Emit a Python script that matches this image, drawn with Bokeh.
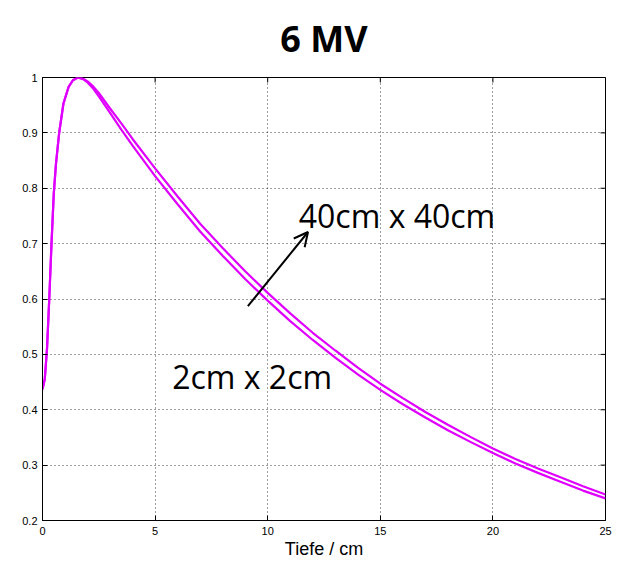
import math
from bokeh.plotting import figure
from bokeh.models import (FixedTicker, Label, Arrow, OpenHead,
                          CustomJSTickFormatter, Range1d)
from bokeh.embed import file_html
from bokeh.resources import INLINE

# ---------------- data ----------------
title_text = "6 MV"
x_label = "Tiefe / cm"
x_ticks = [0, 5, 10, 15, 20, 25]
y_ticks = [0.2, 0.3, 0.4, 0.5, 0.6, 0.7, 0.8, 0.9, 1.0]

depth_2x2 = [0.0, 0.1, 0.2, 0.3, 0.4, 0.5, 0.6, 0.74, 0.93, 1.16, 1.35, 1.57, 1.8,
             2.0, 2.25, 2.5, 3.0, 3.5, 4, 5, 6, 7, 8, 9, 10, 11, 12, 13, 14, 15,
             16, 17, 18, 19, 20, 21, 22, 23, 24, 25]
dose_2x2 = [0.437, 0.455, 0.51, 0.60, 0.70, 0.79, 0.845, 0.90, 0.953, 0.983, 0.995, 1.0, 0.997,
            0.991, 0.980, 0.966, 0.936, 0.906, 0.877, 0.822, 0.771, 0.722, 0.678, 0.636,
            0.597, 0.560, 0.526, 0.494, 0.464, 0.436, 0.410, 0.386, 0.363, 0.342, 0.322,
            0.303, 0.286, 0.270, 0.254, 0.240]

depth_40x40 = [0.0, 0.1, 0.2, 0.3, 0.4, 0.5, 0.6, 0.74, 0.93, 1.16, 1.35, 1.57, 1.8,
               2.0, 2.25, 2.5, 3.0, 3.5, 4, 5, 6, 7, 8, 9, 10, 11, 12, 13, 14, 15,
               16, 17, 18, 19, 20, 21, 22, 23, 24, 25]
dose_40x40 = [0.437, 0.455, 0.51, 0.60, 0.70, 0.79, 0.845, 0.90, 0.953, 0.983, 0.995, 1.0, 0.998,
              0.993, 0.984, 0.972, 0.944, 0.917, 0.889, 0.836, 0.785, 0.736, 0.692, 0.650,
              0.611, 0.574, 0.539, 0.507, 0.476, 0.447, 0.421, 0.396, 0.373, 0.351, 0.330,
              0.311, 0.294, 0.278, 0.262, 0.247]

label_small = "2cm x 2cm"
label_small_at = (5.76, 0.46)
label_large = "40cm x 40cm"
label_large_at = (11.38, 0.751)
arrow_from = (9.12, 0.587)
arrow_to = (11.79, 0.721)

CURVE = "#e000ff"
TICK_FONT = "Liberation Sans"

# ---------------- figure ----------------
p = figure(width=619, height=561, output_backend="svg", toolbar_location=None,
           x_range=Range1d(0, 25), y_range=Range1d(0.2, 1.0),
           min_border_left=42, min_border_right=14, min_border_top=77,
           min_border_bottom=40)

p.title.text = title_text
p.title.text_font = "Open Sans"
p.title.text_font_style = "bold"
p.title.text_font_size = "36px"
p.title.text_color = "black"
p.title.align = "center"
p.title.vertical_align = "top"
p.title.offset = 6
p.title.standoff = 26

p.background_fill_color = "white"
p.border_fill_color = "white"
p.outline_line_color = "black"
p.outline_line_width = 1

p.line(depth_2x2, dose_2x2, line_color=CURVE, line_width=2.2)
p.line(depth_40x40, dose_40x40, line_color=CURVE, line_width=2.2)

# axes
for ax in p.xaxis:
    ax.ticker = FixedTicker(ticks=x_ticks)
    ax.axis_label = x_label
    ax.axis_label_text_font = TICK_FONT
    ax.axis_label_text_font_style = "normal"
    ax.axis_label_text_font_size = "18px"
    ax.axis_label_text_color = "black"
    ax.axis_label_standoff = 1
    ax.major_label_standoff = 6
for ax in p.yaxis:
    ax.ticker = FixedTicker(ticks=y_ticks)
    ax.formatter = CustomJSTickFormatter(code="return (Math.round(tick*10)/10).toString();")
    ax.major_label_standoff = 5

for ax in list(p.xaxis) + list(p.yaxis):
    ax.major_label_text_font = TICK_FONT
    ax.major_label_text_font_size = "11px"
    ax.major_label_text_color = "black"
    ax.axis_line_color = "black"
    ax.axis_line_width = 1
    ax.major_tick_in = 5
    ax.major_tick_out = 0
    ax.major_tick_line_color = "black"
    ax.minor_tick_line_color = None

# inward ticks on the top and right edges of the box
x_max, y_max = 25, 1.0
p.ray(x=x_ticks, y=[y_max] * len(x_ticks), length=5, length_units="screen",
      angle=-math.pi / 2, line_color="black", line_width=1)
p.ray(x=[x_max] * len(y_ticks), y=y_ticks, length=5, length_units="screen",
      angle=math.pi, line_color="black", line_width=1)

# grid
for g in list(p.xgrid) + list(p.ygrid):
    g.grid_line_color = "black"
    g.grid_line_alpha = 0.75
    g.grid_line_dash = "1 3"
    g.grid_line_width = 1
p.xgrid.ticker = FixedTicker(ticks=x_ticks)
p.ygrid.ticker = FixedTicker(ticks=y_ticks)

# annotations
p.add_layout(Label(x=label_small_at[0], y=label_small_at[1], text=label_small,
                   text_font="Open Sans", text_font_size="32px", text_color="black",
                   text_baseline="alphabetic"))
p.add_layout(Label(x=label_large_at[0], y=label_large_at[1], text=label_large,
                   text_font="Open Sans", text_font_size="32px", text_color="black",
                   text_baseline="alphabetic"))
p.add_layout(Arrow(x_start=arrow_from[0], y_start=arrow_from[1],
                   x_end=arrow_to[0], y_end=arrow_to[1],
                   line_color="black", line_width=2,
                   end=OpenHead(size=14, line_width=2, line_color="black")))

open("out.html", "w").write(file_html(p, INLINE))
